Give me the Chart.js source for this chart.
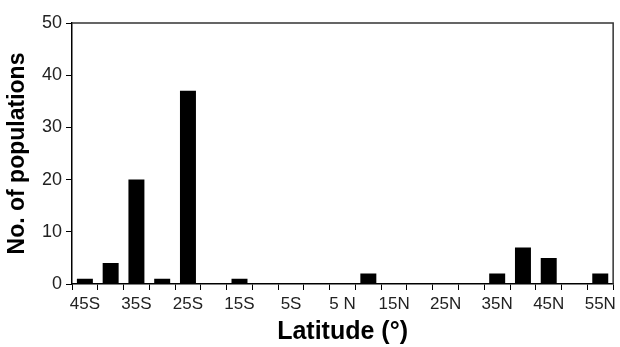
<!DOCTYPE html>
<html>
<head>
<meta charset="utf-8">
<script src="https://cdn.jsdelivr.net/npm/chart.js@4"></script>
<style>
  html, body { margin: 0; padding: 0; background: #fff; }
  #wrap { width: 620px; height: 347px; }
</style>
</head>
<body>
<div id="wrap"><canvas id="latChart"></canvas></div>
<script>
// latitude bins, every 5 degrees
latitudes = ["45S","40S","35S","30S","25S","20S","15S","10S","5S","0","5N","10N","15N","20N","25N","30N","35N","40N","45N","50N","55N"];
// only every other bin gets a printed label
tickLabels = ["45S","","35S","","25S","","15S","","5S","","5 N","","15N","","25N","","35N","","45N","","55N"];
populations = [1,4,20,1,37,0,1,0,0,0,0,2,0,0,0,0,2,7,5,0,2];
yTicks = [0,10,20,30,40,50];

// box round the plot (top + right edges)
frame = {
    id: "frame",
    afterDraw(chart){
        let a = chart.chartArea;
        let c = chart.ctx;
        c.save();
        c.strokeStyle = "#333";
        c.lineWidth = 1.5;
        c.beginPath();
        c.moveTo(a.left, a.top);
        c.lineTo(a.right, a.top);
        c.lineTo(a.right, a.bottom);
        c.stroke();
        c.restore();
    }
}

new Chart("latChart",{
    type: "bar",
    data:{
        labels: latitudes,
        datasets:[{
            backgroundColor: "#000",
            data: populations,
            barPercentage: 0.62,
            categoryPercentage: 1
        }]
    },
    plugins: [frame],
    options:{
        responsive: true,
        maintainAspectRatio: false,
        animation: false,
        events: [],
        layout: {padding: {top: 23, right: 6, left: 0, bottom: 0}},
        plugins:{
            legend: {display: false},
            tooltip: {enabled: false}
        },
        scales:{
            x:{
                grid: {drawOnChartArea: false, color: "#000", tickLength: 6, tickColor: "#000"},
                border: {color: "#000", width: 1.5},
                ticks:{
                    autoSkip: false,
                    maxRotation: 0,
                    padding: 4,
                    color: "#222",
                    font: {family: "'Liberation Sans', Arial", size: 17},
                    callback: (v, i) => tickLabels[i]
                },
                title:{
                    display: true,
                    text: "Latitude (°)",
                    color: "#000",
                    padding: {top: 0, bottom: 0},
                    font: {family: "'Liberation Sans', Arial", size: 25, weight: "bold"}
                },
                afterFit(s){ s.height = 63; }
            },
            y:{
                min: 0,
                max: 50,
                afterBuildTicks(s){ s.ticks = yTicks.map(v => ({value: v})); },
                grid: {drawOnChartArea: false, tickLength: 6, tickColor: "#000"},
                border: {color: "#000", width: 1.5},
                ticks:{
                    padding: 4,
                    color: "#222",
                    font: {family: "'Liberation Sans', Arial", size: 18}
                },
                title:{
                    display: true,
                    text: "No. of populations",
                    color: "#000",
                    padding: {top: 4, bottom: 2},
                    font: {family: "'Liberation Sans', Arial", size: 23, weight: "bold"}
                },
                afterFit(s){ s.width = 72; }
            }
        }
    }
})
</script>
</body>
</html>
